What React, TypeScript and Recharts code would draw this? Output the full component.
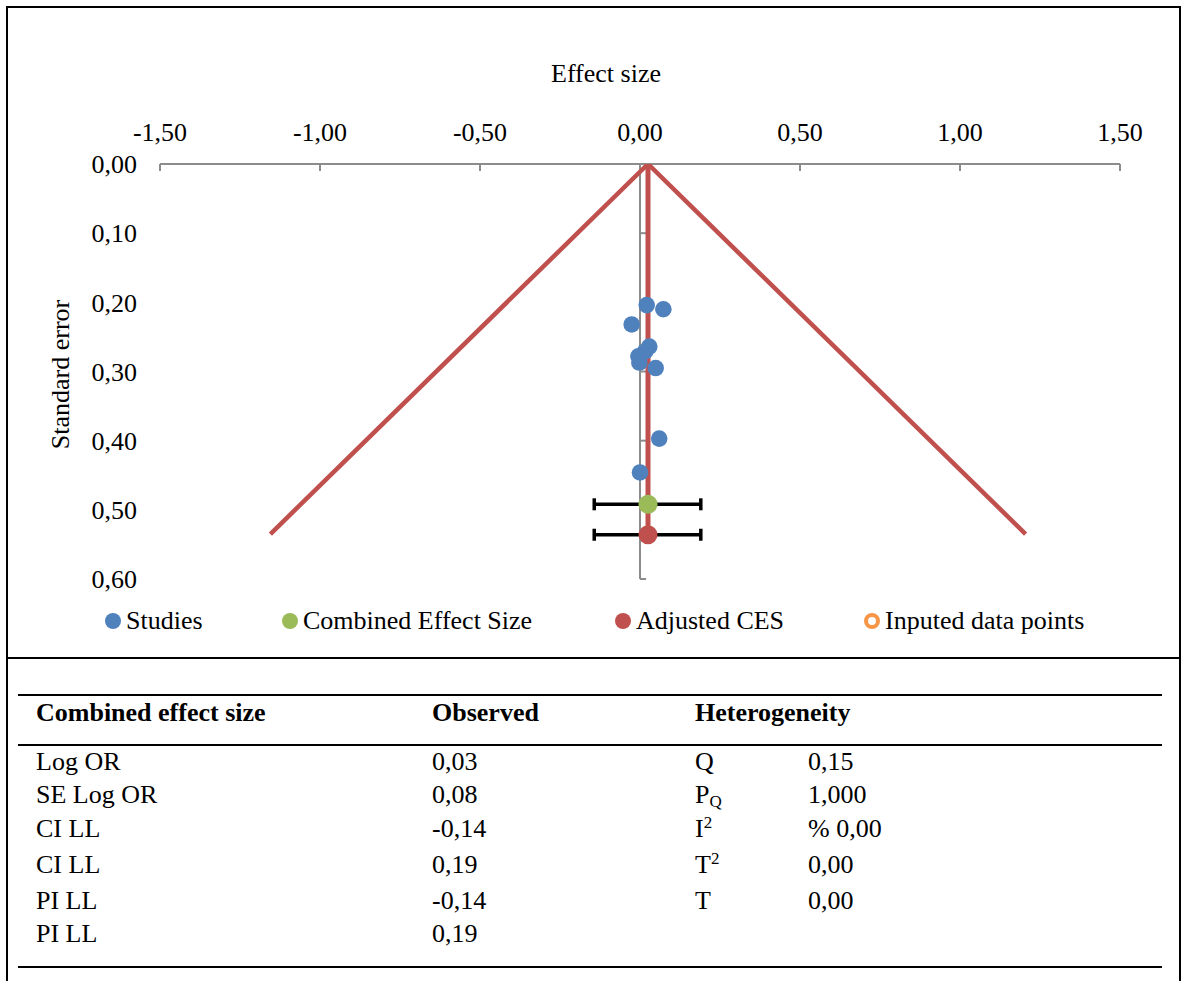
import { ScatterChart, Scatter, XAxis, YAxis, ReferenceLine, ErrorBar, Legend, Label } from 'recharts'

// axis ticks
const xTicks = [-1.5, -1, -0.5, 0, 0.5, 1, 1.5]
const yTicks = [0, 0.1, 0.2, 0.3, 0.4, 0.5, 0.6]

// studies: effect size (log OR) and standard error
const studyEffect = [0.021, 0.073, -0.026, 0.029, 0.016, -0.005, -0.002, 0.049, 0.06, 0.0]
const studySE = [0.204, 0.21, 0.232, 0.264, 0.271, 0.278, 0.287, 0.295, 0.397, 0.446]

// combined / adjusted effect size
const cesEffect = 0.025
const cesSE = 0.492
const adjustedSE = 0.536
const ciLow = -0.143
const ciHigh = 0.19

// funnel outline
const funnelX = [-1.155, 0.025, 1.205]
const funnelY = [0.535, 0, 0.535]

const legendOrder = ['Studies', 'Combined Effect Size', 'Adjusted CES', 'Inputed data points']

// table under the chart
const tableHeaders = ['Combined effect size', 'Observed', 'Heterogeneity']
const cesLabels = ['Log OR', 'SE Log OR', 'CI LL', 'CI LL', 'PI LL', 'PI LL']
const cesValues = ['0,03', '0,08', '-0,14', '0,19', '-0,14', '0,19']
const hetLabels = [
  { base: 'Q' },
  { base: 'P', sub: 'Q' },
  { base: 'I', sup: '2' },
  { base: 'T', sup: '2' },
  { base: 'T' },
]
const hetValues = ['0,15', '1,000', '% 0,00', '0,00', '0,00']

const FONT = '"Liberation Serif", "Times New Roman", serif'
const BLUE = '#4F81BD'
const GREEN = '#9BBB59'
const RED = '#C0504D'
const ORANGE = '#F79646'
const GREY = '#8C8C8C'

const fmt = (v: number) => v.toFixed(2).replace('.', ',')

const studies = studyEffect.map((x, i) => ({ x, y: studySE[i] }))
const ciErr = [cesEffect - ciLow, ciHigh - cesEffect]
const combined = [{ x: cesEffect, y: cesSE, err: ciErr }]
const adjusted = [{ x: cesEffect, y: adjustedSE, err: ciErr }]
const adjustedLine = [
  { x: cesEffect, y: 0 },
  { x: cesEffect, y: adjustedSE },
]
const funnel = funnelX.map((x, i) => ({ x, y: funnelY[i] }))

const dot = (r: number, fill: string) => (p: any) => <circle cx={p.cx} cy={p.cy} r={r} fill={fill} />
const noShape = () => <g />

// left edge of each legend marker
const legendLefts = [105, 282, 615, 864]

const renderLegend = (props: any) => {
  const items = (props.payload || [])
    .filter((e: any) => e.type !== 'none' && legendOrder.includes(e.value))
    .sort((a: any, b: any) => legendOrder.indexOf(a.value) - legendOrder.indexOf(b.value))
  return (
    <div style={{ position: 'relative', height: 30, fontFamily: FONT, fontSize: 26, color: '#000' }}>
      {items.map((e: any, i: number) => {
        const hollow = e.value === 'Inputed data points'
        return (
          <div key={e.value} style={{ position: 'absolute', left: legendLefts[i], top: 0, height: 30, display: 'flex', alignItems: 'center', whiteSpace: 'nowrap' }}>
            <span
              style={{
                display: 'inline-block',
                width: 16,
                height: 16,
                borderRadius: '50%',
                boxSizing: 'border-box',
                background: hollow ? 'transparent' : e.color,
                border: hollow ? `4px solid ${ORANGE}` : 'none',
                marginRight: 5,
              }}
            />
            <span>{e.value}</span>
          </div>
        )
      })}
    </div>
  )
}

const tickStyle = { fill: '#000', fontSize: 26, fontFamily: FONT }

function FunnelPlot() {
  return (
    <ScatterChart width={1183} height={658} margin={{ top: 40, right: 63, bottom: 49, left: 40 }}>
      <XAxis
        type="number"
        dataKey="x"
        orientation="top"
        domain={[-1.5, 1.5]}
        ticks={xTicks}
        interval={0}
        tickFormatter={fmt}
        height={124}
        tickSize={0}
        tickMargin={23}
        tick={tickStyle}
        axisLine={{ stroke: GREY, strokeWidth: 2 }}
        allowDataOverflow
      >
        <Label
          content={() => (
            <text x={606} y={82} textAnchor="middle" fontSize={26} fontFamily={FONT} fill="#000">
              Effect size
            </text>
          )}
        />
      </XAxis>
      <YAxis
        type="number"
        dataKey="y"
        domain={[0, 0.6]}
        reversed
        ticks={yTicks}
        interval={0}
        tickFormatter={fmt}
        width={120}
        tickSize={0}
        tickMargin={23}
        tick={tickStyle}
        axisLine={false}
        tickLine={false}
        allowDataOverflow
      >
        <Label
          content={(p: any) => {
            const vb = p.viewBox || { y: 164, height: 415 }
            const cy = vb.y + vb.height / 2 + 3
            return (
              <text x={60} y={cy} dy="0.35em" transform={`rotate(-90, 60, ${cy})`} textAnchor="middle" fontSize={26} fontFamily={FONT} fill="#000">
                Standard error
              </text>
            )
          }}
        />
      </YAxis>

      <ReferenceLine x={0} stroke={GREY} strokeWidth={2} />
      {xTicks.map((t) => (
        <ReferenceLine key={`xt${t}`} segment={[{ x: t, y: 0 }, { x: t, y: 0.01 }]} stroke={GREY} strokeWidth={2} />
      ))}
      {yTicks.map((t) => (
        <ReferenceLine key={`yt${t}`} segment={[{ x: 0, y: t }, { x: 0.019, y: t }]} stroke={GREY} strokeWidth={2} />
      ))}

      <Scatter data={funnel} line={{ stroke: RED, strokeWidth: 4.5 }} shape={noShape} legendType="none" isAnimationActive={false} />
      <Scatter data={adjustedLine} line={{ stroke: RED, strokeWidth: 5 }} shape={noShape} legendType="none" isAnimationActive={false} />

      <Scatter name="Studies" data={studies} fill={BLUE} shape={dot(8.3, BLUE)} legendType="circle" isAnimationActive={false} />
      <Scatter name="Combined Effect Size" data={combined} fill={GREEN} shape={dot(9.5, GREEN)} legendType="circle" isAnimationActive={false}>
        <ErrorBar dataKey="err" direction="x" stroke="#000" strokeWidth={3.5} width={6} />
      </Scatter>
      <Scatter name="Adjusted CES" data={adjusted} fill={RED} shape={dot(9.5, RED)} legendType="circle" isAnimationActive={false}>
        <ErrorBar dataKey="err" direction="x" stroke="#000" strokeWidth={3.5} width={6} />
      </Scatter>
      <Scatter name="Inputed data points" data={[]} fill={ORANGE} legendType="circle" isAnimationActive={false} />

      <Legend content={renderLegend} wrapperStyle={{ left: 0, top: 606, width: 1183, height: 30 }} />
    </ScatterChart>
  )
}

const rowTops = [749, 782, 816, 852, 888, 921]

function StatsTable() {
  const text: any = { position: 'absolute', fontFamily: FONT, fontSize: 26, lineHeight: '26px', color: '#000', whiteSpace: 'nowrap' }
  const rule = (top: number) => (
    <div style={{ position: 'absolute', left: 18, width: 1144, top, height: 2, background: '#000' }} />
  )
  const cols = [36, 432, 695]
  return (
    <>
      {rule(694)}
      {rule(744)}
      {rule(966)}
      {tableHeaders.map((h, i) => (
        <div key={h} style={{ ...text, left: cols[i], top: 700, fontWeight: 'bold' }}>
          {h}
        </div>
      ))}
      {cesLabels.map((l, i) => (
        <div key={`l${i}`} style={{ ...text, left: 36, top: rowTops[i] }}>
          {l}
        </div>
      ))}
      {cesValues.map((v, i) => (
        <div key={`v${i}`} style={{ ...text, left: 432, top: rowTops[i] }}>
          {v}
        </div>
      ))}
      {hetLabels.map((h, i) => (
        <div key={`h${i}`} style={{ ...text, left: 695, top: rowTops[i] }}>
          {h.base}
          {h.sub && <sub style={{ fontSize: 17, verticalAlign: '-4px', lineHeight: 0 }}>{h.sub}</sub>}
          {h.sup && <sup style={{ fontSize: 17, verticalAlign: '9px', lineHeight: 0 }}>{h.sup}</sup>}
        </div>
      ))}
      {hetValues.map((v, i) => (
        <div key={`hv${i}`} style={{ ...text, left: 808, top: rowTops[i] }}>
          {v}
        </div>
      ))}
    </>
  )
}

export default function App() {
  return (
    <div style={{ position: 'absolute', left: 0, top: 0, width: 1183, height: 981, background: '#fff', overflow: 'hidden' }}>
      <div style={{ position: 'absolute', left: 6, top: 6, width: 1175, height: 653, border: '2px solid #000', boxSizing: 'border-box' }} />
      <div style={{ position: 'absolute', left: 6, top: 657, width: 1175, height: 340, borderLeft: '2px solid #000', borderRight: '2px solid #000', boxSizing: 'border-box' }} />
      <div style={{ position: 'absolute', left: 0, top: 0 }}>
        <FunnelPlot />
      </div>
      <StatsTable />
    </div>
  )
}
